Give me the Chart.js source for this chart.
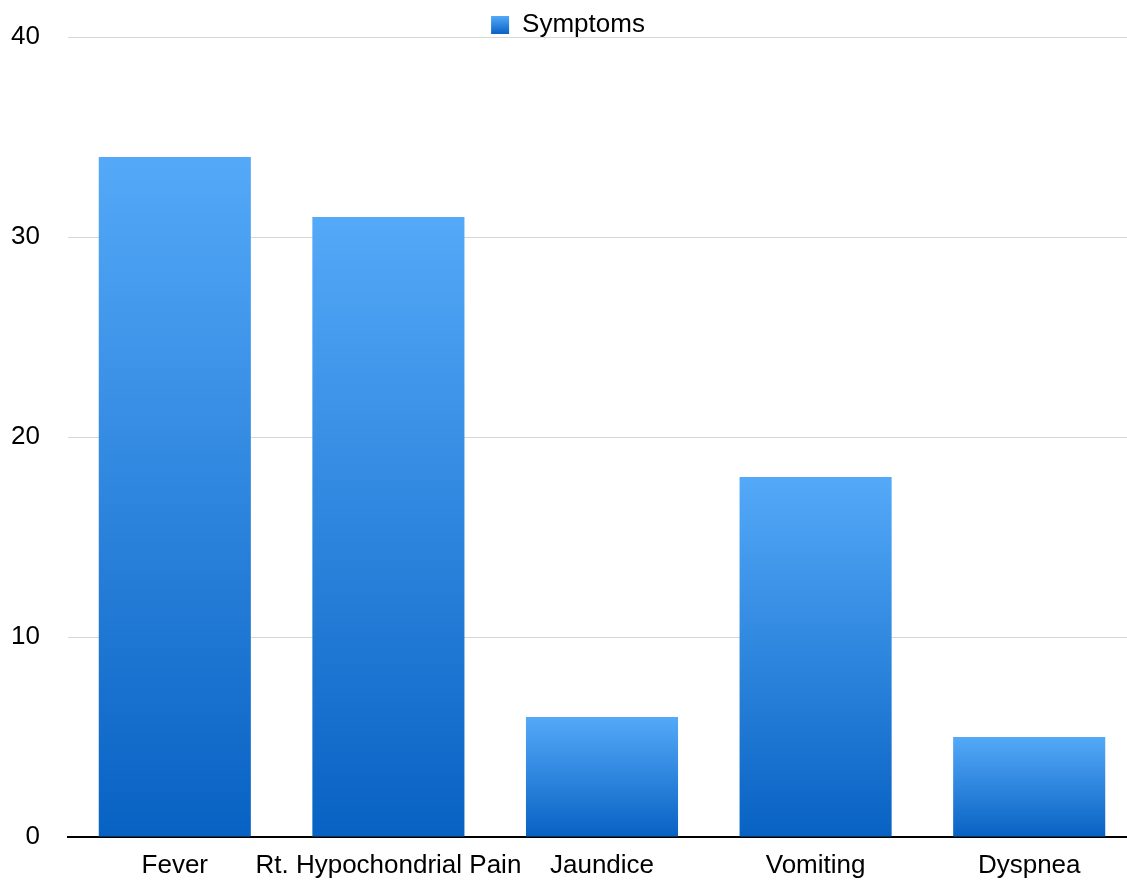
<!DOCTYPE html>
<html lang="en">
<head>
  <meta charset="UTF-8">
  <title>Symptoms</title>
  <script src="https://cdn.jsdelivr.net/npm/chart.js"></script>
  <style>
    html, body { margin: 0; padding: 0; background: #fff; overflow: hidden; }
    .chart-container { width: 1136px; height: 880px; position: relative; }
  </style>
</head>
<body>
  <div class="chart-container">
    <canvas id="symptomChart" width="1136" height="880"></canvas>
  </div>

<script>
  const categories = ['Fever', 'Rt. Hypochondrial Pain', 'Jaundice', 'Vomiting', 'Dyspnea'];
  const symptomCounts = [34, 31, 6, 18, 5];
  const yTicks = [0, 10, 20, 30, 40];

  const TOP_COLOR = '#54a9f8';
  const BOTTOM_COLOR = '#0862c3';
  const FONT = "'Liberation Sans', Arial, Helvetica, sans-serif";

  // 各バーごとに上→下のグラデーション
  function barGradient(ctx) {
    const chart = ctx.chart;
    if (ctx.type !== 'data' || !chart.scales.y) return TOP_COLOR;
    const y = chart.scales.y;
    const top = y.getPixelForValue(ctx.parsed.y);
    const bottom = y.getPixelForValue(0);
    if (!isFinite(top) || !isFinite(bottom) || top === bottom) return TOP_COLOR;
    const g = chart.ctx.createLinearGradient(0, top, 0, bottom);
    g.addColorStop(0, TOP_COLOR);
    g.addColorStop(1, BOTTOM_COLOR);
    return g;
  }

  const ctx = document.getElementById('symptomChart').getContext('2d');

  new Chart(ctx, {
    type: 'bar',
    data: {
      labels: categories,
      datasets: [{
        label: 'Symptoms',
        data: symptomCounts,
        backgroundColor: barGradient,
        borderWidth: 0,
        categoryPercentage: 1,
        barPercentage: 0.712
      }]
    },
    options: {
      responsive: false,
      animation: false,
      layout: { padding: 0 },
      plugins: {
        tooltip: { enabled: false },
        legend: {
          display: true,
          position: 'top',
          maxHeight: 37,
          labels: {
            color: '#000',
            font: { family: FONT, size: 26 },
            boxWidth: 18,
            boxHeight: 18,
            padding: 12,
            generateLabels: chart => {
              // 凡例の四角にも同じグラデーション
              const g = chart.ctx.createLinearGradient(0, 16, 0, 34);
              g.addColorStop(0, TOP_COLOR);
              g.addColorStop(1, BOTTOM_COLOR);
              return [{
                text: 'Symptoms',
                fillStyle: g,
                strokeStyle: 'rgba(0,0,0,0)',
                lineWidth: 0,
                datasetIndex: 0,
                hidden: false
              }];
            }
          }
        }
      },
      scales: {
        x: {
          grid: { display: false },
          border: { display: true, color: '#000', width: 2 },
          ticks: {
            color: '#000',
            font: { family: FONT, size: 26 },
            padding: 5,
            maxRotation: 0,
            autoSkip: false
          },
          afterFit: scale => { scale.height = 43; }
        },
        y: {
          min: 0,
          max: 40,
          afterBuildTicks: scale => { scale.ticks = yTicks.map(v => ({ value: v })); },
          grid: { color: '#d6d6d6', lineWidth: 1, drawTicks: false },
          border: { display: false },
          ticks: {
            color: '#000',
            font: { family: FONT, size: 26 },
            padding: 28
          },
          afterFit: scale => {
            scale.width = 68;
            scale.paddingTop = 0;
            scale.paddingBottom = 0;
          }
        }
      }
    }
  });
</script>
</body>
</html>
